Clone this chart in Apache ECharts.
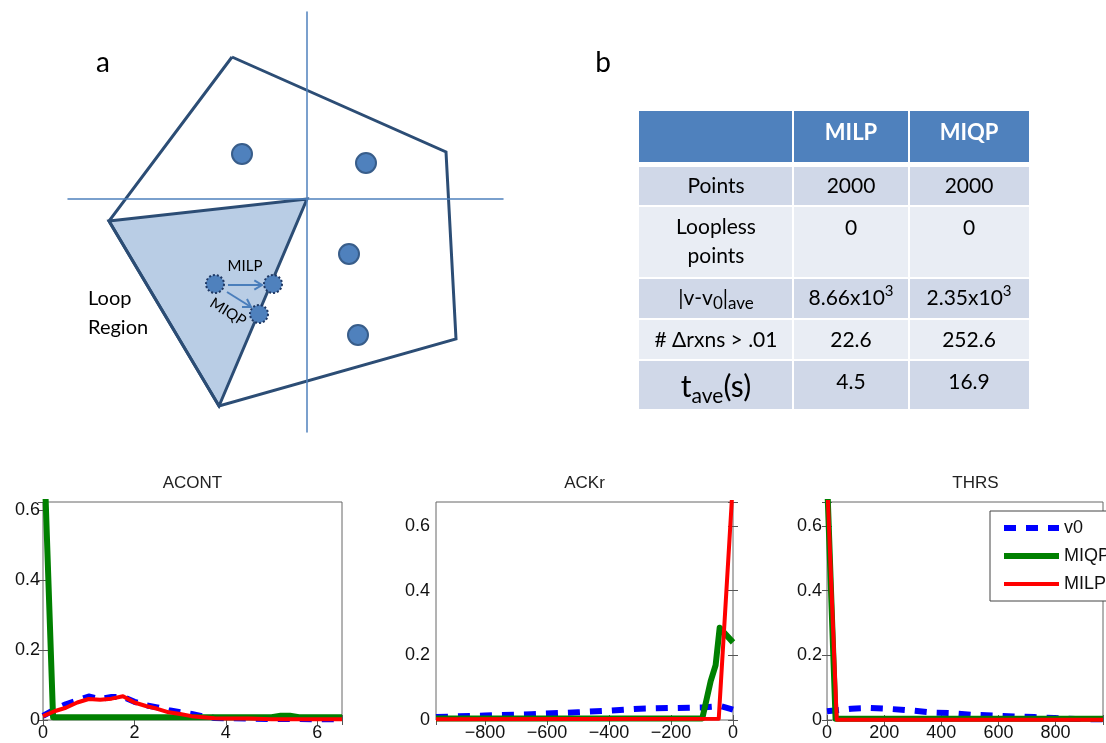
<!DOCTYPE html>
<html><head><meta charset="utf-8">
<script src="https://cdn.jsdelivr.net/npm/echarts@6/dist/echarts.min.js"></script>
<style>html,body{margin:0;padding:0;background:#fff}#c{width:1106px;height:743px}</style>
</head><body><div id="c"></div>
<script>
// ---------- Panel a: diagram (flux-space units, origin at the axes crossing) ----------
const outerRegion = [[-0.75,1.42],[1.39,0.47],[1.49,-1.40],[-0.88,-2.07],[-1.98,-0.22]];
const loopRegion = [[-1.98,-0.22],[0,0],[-0.88,-2.07]];
const feasiblePoints = [[-0.65,0.45],[0.59,0.36],[0.42,-0.55],[0.51,-1.36]];
const loopPoint = [[-0.92,-0.85]];
const projectedPoints = [[-0.34,-0.85],[-0.48,-1.15]];
const milpArrow = [-0.79,-0.86,-0.45,-0.86];
const miqpArrow = [-0.80,-0.93,-0.56,-1.08];

// ---------- Panel b: table ----------
const tableHeader = ['', 'MILP', 'MIQP'];
const tableRowLabels = ['Points', 'Loopless\npoints', '|v-v{sub|0}|{sub|ave}', '# \u0394rxns > .01', '{big|t}{tsub|ave}{big|(s)}'];
const milpValues = ['2000', '0', '8.66x10{sup|3}', '22.6', '4.5'];
const miqpValues = ['2000', '0', '2.35x10{sup|3}', '252.6', '16.9'];

// ---------- Bottom panels: distributions ----------
const seriesNames = ['v0', 'MIQP', 'MILP'];
const panelTitles = ['ACONT', 'ACKr', 'THRS'];

const acontV0X   = [0,0.25,0.5,0.75,1.0,1.25,1.5,1.75,2.0,2.25,2.5,2.75,3.0,3.25,3.5,3.75,4.0,4.5,5.0,5.5,6.0,6.54];
const acontV0    = [0.012,0.03,0.045,0.056,0.067,0.06,0.066,0.066,0.052,0.042,0.036,0.028,0.022,0.017,0.01,0.006,0.005,0.004,0.003,0.003,0.002,0.002];
const acontMiqpX = [0,0.22,0.5,1,2,3,4,5,5.2,5.4,5.6,6,6.54];
const acontMiqp  = [0.85,0.008,0.008,0.008,0.008,0.008,0.008,0.008,0.012,0.012,0.008,0.008,0.008];
const acontMilpX = [0,0.25,0.5,0.75,1.0,1.25,1.5,1.75,2.0,2.25,2.5,2.75,3.0,3.25,3.5,3.75,4.0,4.5,5.0,5.5,6.0,6.54];
const acontMilp  = [0.011,0.025,0.035,0.05,0.06,0.058,0.061,0.068,0.05,0.04,0.032,0.022,0.017,0.011,0.008,0.005,0.004,0.004,0.002,0.002,0.002,0.002];

const ackrV0X   = [-958,-800,-650,-500,-400,-300,-200,-100,-40,0];
const ackrV0    = [0.009,0.014,0.018,0.024,0.029,0.035,0.037,0.039,0.043,0.032];
const ackrMiqpX = [-958,-99,-72,-56,-43,0];
const ackrMiqp  = [0.005,0.005,0.12,0.17,0.285,0.24];
const ackrMilpX = [-958,-46,0];
const ackrMilp  = [0.002,0.004,0.74];

const thrsV0X   = [0,85,150,225,300,370,435,510,580,655,725,795,870,966];
const thrsV0    = [0.027,0.035,0.037,0.034,0.029,0.023,0.021,0.016,0.014,0.011,0.009,0.006,0.003,0.002];
const thrsMiqpX = [0,30,966];
const thrsMiqp  = [0.75,0.004,0.004];
const thrsMilpX = [0,34,966];
const thrsMilp  = [0.75,0.001,0.001];

const xTickSteps = [2, 200, 200];
const yTickStep = 0.2;

// ---------- Build ----------
const zip = (xs, ys) => xs.map((x, i) => [x, ys[i]]);
const panelData = [
  [zip(acontV0X, acontV0), zip(acontMiqpX, acontMiqp), zip(acontMilpX, acontMilp)],
  [zip(ackrV0X, ackrV0), zip(ackrMiqpX, ackrMiqp), zip(ackrMilpX, ackrMilp)],
  [zip(thrsV0X, thrsV0), zip(thrsMiqpX, thrsMiqp), zip(thrsMilpX, thrsMilp)]
];
const panelLayout = [
  {grid:{left:43, top:502, width:299, height:218}, xMin:0, xMax:6.54, yMax:0.623, yMargin:3},
  {grid:{left:436, top:502, width:297, height:218}, xMin:-958, xMax:0, yMax:0.674, yMargin:6},
  {grid:{left:827, top:502, width:297, height:218}, xMin:0, xMax:966, yMax:0.674, yMargin:5}
];
const styles = [
  {color:'#0000ff', width:6, type:[12,10]},
  {color:'#008000', width:6, type:'solid'},
  {color:'#ff0000', width:4, type:'solid'}
];
const FONT = 'Liberation Sans';
function tickFmt(step, dec) {
  return v => {
    const k = v / step;
    if (Math.abs(k - Math.round(k)) > 1e-6) return '';
    if (Math.abs(v) < 1e-9) return '0';
    const s = dec ? v.toFixed(dec) : String(Math.round(v));
    return s.replace('-', '\u2212');
  };
}
// interval only when min is a multiple of the step; otherwise let the nice-tick logic pick the same step
function tickSpec(min, step) {
  const k = min / step;
  return Math.abs(k - Math.round(k)) < 1e-9 ? {interval:step} : {splitNumber:5};
}

const grids = [], xAxes = [], yAxes = [], series = [];
const tickStyle = {inside:true, length:5, lineStyle:{color:'#555'}};
panelLayout.forEach((p, i) => {
  grids.push(Object.assign({show:true, borderColor:'#666', borderWidth:1, backgroundColor:'#fff'}, p.grid));
  const xs = xTickSteps[i];
  const common = {gridIndex:i, splitLine:{show:false}, axisLine:{show:false}};
  const xt = tickSpec(p.xMin, xs);
  xAxes.push(Object.assign({}, common, xt, {type:'value', position:'bottom', min:p.xMin, max:p.xMax,
    axisTick:tickStyle,
    axisLabel:{formatter:tickFmt(xs,0), margin:4, color:'#111', fontFamily:FONT, fontSize:18, showMinLabel:true, showMaxLabel:true}}));
  xAxes.push(Object.assign({}, common, xt, {type:'value', position:'top', min:p.xMin, max:p.xMax,
    axisTick:tickStyle, axisLabel:{show:false}}));
  yAxes.push(Object.assign({}, common, {type:'value', position:'left', min:0, max:p.yMax, interval:yTickStep,
    axisTick:tickStyle,
    axisLabel:{formatter:tickFmt(yTickStep,1), margin:p.yMargin, color:'#111', fontFamily:FONT, fontSize:18, showMinLabel:true, showMaxLabel:true}}));
  yAxes.push(Object.assign({}, common, {type:'value', position:'right', min:0, max:p.yMax, interval:yTickStep,
    axisTick:tickStyle, axisLabel:{show:false}}));
  panelData[i].forEach((d, s) => {
    series.push({type:'line', name:seriesNames[s], xAxisIndex:2*i, yAxisIndex:2*i, data:d,
      symbol:'none', showSymbol:false, animation:false, clip:true, z:3+s,
      lineStyle:{color:styles[s].color, width:styles[s].width, type:styles[s].type, join:'round'},
      itemStyle:{color:styles[s].color}});
  });
});

// Diagram grid (index 3)
grids.push({left:68, top:12, width:435, height:420, show:false});
xAxes.push({gridIndex:3, type:'value', min:-2.39, max:1.96, axisLabel:{show:false}, axisTick:{show:false}, splitLine:{show:false},
  axisLine:{show:true, onZero:true, lineStyle:{color:'#4f81bd', width:1.5}}, z:6});
yAxes.push({gridIndex:3, type:'value', min:-2.33, max:1.87, axisLabel:{show:false}, axisTick:{show:false}, splitLine:{show:false},
  axisLine:{show:true, onZero:true, lineStyle:{color:'#4f81bd', width:1.5}}, z:6});
const DX = 6, DY = 6;
series.push({type:'custom', xAxisIndex:DX, yAxisIndex:DY, data:[0], z:1, silent:true, animation:false,
  renderItem:(params, api) => ({type:'polygon', shape:{points:loopRegion.map(p => api.coord(p))},
    style:{fill:'#b9cde5', stroke:'#2c4d75', lineWidth:3, lineJoin:'miter'}})});
series.push({type:'line', xAxisIndex:DX, yAxisIndex:DY, data:outerRegion.concat([outerRegion[0]]), symbol:'none', z:2, animation:false,
  lineStyle:{color:'#2c4d75', width:3, join:'miter'}, silent:true});
series.push({type:'scatter', xAxisIndex:DX, yAxisIndex:DY, data:feasiblePoints, symbolSize:20, z:4, animation:false, silent:true,
  itemStyle:{color:'#4f81bd', borderColor:'#385d8a', borderWidth:2, opacity:1}});
series.push({type:'scatter', xAxisIndex:DX, yAxisIndex:DY, data:loopPoint.concat(projectedPoints), symbolSize:18, z:4, animation:false, silent:true,
  itemStyle:{color:'#4f81bd', borderColor:'#1f3864', borderWidth:2, borderType:[2,2], opacity:1}});
series.push({type:'custom', xAxisIndex:DX, yAxisIndex:DY, data:[milpArrow, miqpArrow], z:5, silent:true, animation:false,
  encode:{x:[0,2], y:[1,3]},
  renderItem:(params, api) => {
    const a = api.coord([api.value(0), api.value(1)]), b = api.coord([api.value(2), api.value(3)]);
    const ang = Math.atan2(b[1]-a[1], b[0]-a[0]), L = 9, w = 0.55;
    const p1 = [b[0]-L*Math.cos(ang-w), b[1]-L*Math.sin(ang-w)];
    const p2 = [b[0]-L*Math.cos(ang+w), b[1]-L*Math.sin(ang+w)];
    return {type:'group', children:[
      {type:'line', shape:{x1:a[0], y1:a[1], x2:b[0], y2:b[1]}, style:{stroke:'#4a7ebb', lineWidth:2}},
      {type:'polyline', shape:{points:[p1, b, p2]}, style:{stroke:'#4a7ebb', lineWidth:2, fill:null}}
    ]};
  }});

// ---------- Graphic: titles, labels, table ----------
const TF = 'Lato';
const graphic = [];
const centers = panelLayout.map(p => p.grid.left + p.grid.width / 2);
panelTitles.forEach((t, i) => graphic.push({type:'text', x:centers[i], y:483, silent:true, z:100,
  style:{text:t, fill:'#222', font:'17px "Liberation Sans"', align:'center', verticalAlign:'middle'}}));
graphic.push({type:'text', x:103, y:63, z:100, style:{text:'a', fill:'#000', font:'28px Lato', align:'center', verticalAlign:'middle'}});
graphic.push({type:'text', x:603, y:63, z:100, style:{text:'b', fill:'#000', font:'28px Lato', align:'center', verticalAlign:'middle'}});
graphic.push({type:'text', x:88, y:313, z:100, style:{text:'Loop\nRegion', fill:'#000', font:'20px Lato', lineHeight:29, align:'left', verticalAlign:'middle'}});
graphic.push({type:'text', x:245, y:266, z:100, style:{text:'MILP', fill:'#000', font:'15px Lato', align:'center', verticalAlign:'middle'}});
graphic.push({type:'text', x:228, y:312, z:100, rotation:-0.56, style:{text:'MIQP', fill:'#000', font:'15px Lato', align:'center', verticalAlign:'middle'}});

const colEdges = [639, 793, 909, 1029];
const rowEdges = [[111,162],[167,205],[207,277],[279,318],[320,359],[361,409]];
const rowFills = ['#4f81bd', '#d0d8e8', '#e9edf4', '#d0d8e8', '#e9edf4', '#d0d8e8'];
const labelY = [133, 186, 242, 298, 340, 387];
const valueY = [133, 186, 228, 298, 340, 382];
const rich = {
  sub:{fontSize:17, fontFamily:TF, lineHeight:17, verticalAlign:'bottom', fill:'#000', color:'#000'},
  sup:{fontSize:15, fontFamily:TF, lineHeight:15, verticalAlign:'top', fill:'#000', color:'#000'},
  big:{fontSize:30, fontFamily:TF, lineHeight:40, fill:'#000', color:'#000'},
  tsub:{fontSize:21, fontFamily:TF, lineHeight:21, verticalAlign:'bottom', fill:'#000', color:'#000'}
};
rowEdges.forEach((r, ri) => {
  for (let c = 0; c < 3; c++) {
    const x0 = colEdges[c] + (c ? 1 : 0), x1 = colEdges[c+1] - (c < 2 ? 1 : 0);
    graphic.push({type:'rect', shape:{x:x0, y:r[0], width:x1-x0, height:r[1]-r[0]}, style:{fill:rowFills[ri]}, silent:true, z:50});
  }
  const cx = c => (colEdges[c] + colEdges[c+1]) / 2;
  if (ri === 0) {
    [1, 2].forEach(c => graphic.push({type:'text', x:cx(c), y:labelY[0], z:100,
      style:{text:tableHeader[c], fill:'#fff', font:'bold 22px Lato', align:'center', verticalAlign:'middle'}}));
  } else {
    const k = ri - 1;
    graphic.push({type:'text', x:cx(0), y:labelY[ri], z:100,
      style:{text:tableRowLabels[k], fill:'#000', font:'21px Lato', lineHeight:29, align:'center', verticalAlign:'middle', rich:rich}});
    graphic.push({type:'text', x:cx(1), y:valueY[ri], z:100,
      style:{text:milpValues[k], fill:'#000', font:'21px Lato', lineHeight:28, align:'center', verticalAlign:'middle', rich:rich}});
    graphic.push({type:'text', x:cx(2), y:valueY[ri], z:100,
      style:{text:miqpValues[k], fill:'#000', font:'21px Lato', lineHeight:28, align:'center', verticalAlign:'middle', rich:rich}});
  }
});

const legendData = seriesNames.map((n, s) => ({name:n,
  itemStyle:{opacity:0, borderWidth:0, color:'rgba(0,0,0,0)'},
  lineStyle:{color:styles[s].color, width:styles[s].width, type:styles[s].type, cap:'butt', opacity:1}}));

const chart = echarts.init(document.getElementById('c'), null, {renderer:'canvas'});
chart.setOption({
  animation:false,
  backgroundColor:'#fff',
  grid:grids, xAxis:xAxes, yAxis:yAxes, series:series, graphic:graphic,
  legend:{data:legendData, orient:'vertical', left:990, top:511, backgroundColor:'#fff', borderColor:'#444', borderWidth:1,
    padding:[8,8,8,11], itemWidth:55, itemHeight:14, itemGap:10, selectedMode:false,
    textStyle:{fontFamily:FONT, fontSize:18, color:'#111'}}
});
</script></body></html>
